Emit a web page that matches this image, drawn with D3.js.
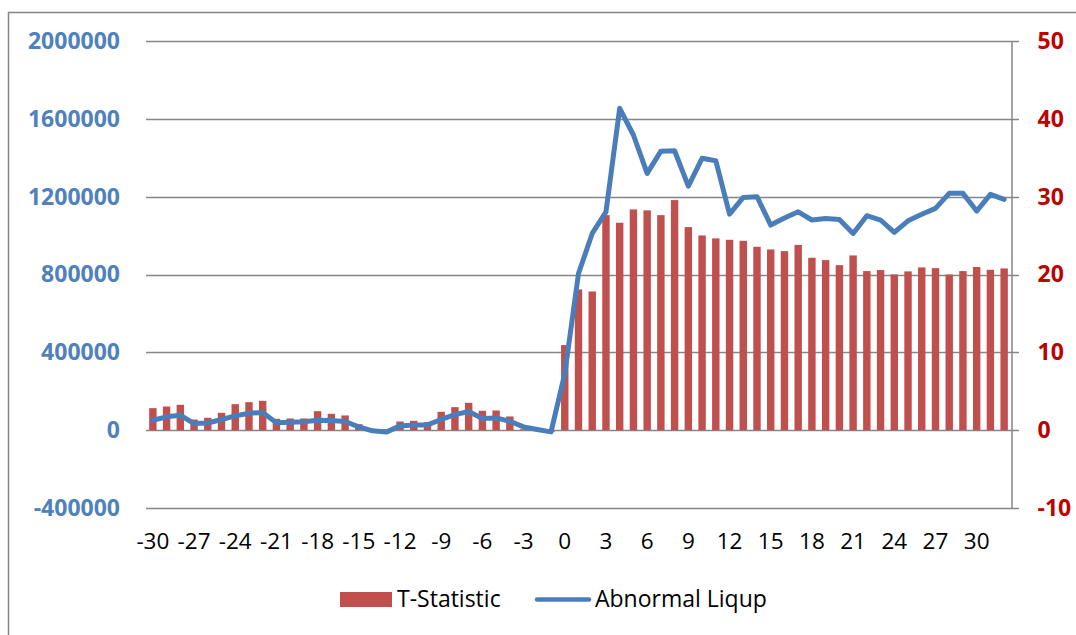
<!DOCTYPE html>
<html>
<head>
    <meta charset="utf-8">
    <title>T-Statistic / Abnormal Liqup</title>
    <script src="https://cdn.jsdelivr.net/npm/d3@7"></script>
    <style>
        body { margin: 0; background: #fff; }
        text { font-family: "Open Sans", "Liberation Sans", sans-serif; }
    </style>
</head>

<body>
<div id="chart"></div>

<script type="text/javascript">
    // event days (categories)
    let days = [-30, -29, -28, -27, -26, -25, -24, -23, -22, -21, -20, -19, -18, -17, -16, -15,
                -14, -13, -12, -11, -10, -9, -8, -7, -6, -5, -4, -3, -2, -1,
                0, 1, 2, 3, 4, 5, 6, 7, 8, 9, 10, 11, 12, 13, 14, 15, 16,
                17, 18, 19, 20, 21, 22, 23, 24, 25, 26, 27, 28, 29, 30, 31, 32];

    // bars, right axis
    let tStat = [2.83, 3.04, 3.26, 1.37, 1.59, 2.23, 3.34, 3.6, 3.77, 1.46, 1.5, 1.5, 2.44, 2.1, 1.89, 0.77,
                 0.15, 0.1, 1.11, 1.2, 1.03, 2.36, 2.96, 3.51, 2.49, 2.53, 1.76, 0.12, 0.05, -0.2,
                 10.93, 18.08, 17.82, 27.63, 26.65, 28.36, 28.24, 27.63, 29.56, 26.09, 25.02, 24.64, 24.46, 24.33, 23.56, 23.22, 23.0,
                 23.8, 22.15, 21.85, 21.2, 22.45, 20.44, 20.57, 20.01, 20.4, 20.91, 20.82, 20.0, 20.44, 20.96, 20.61, 20.78];

    // line, left axis
    let liqup = [51000, 68500, 77000, 34000, 37000, 55000, 73500, 87000, 91000, 37500, 41000, 43000, 51400, 50000, 44600, 17000,
                 -3500, -10000, 22000, 27000, 27000, 55000, 80000, 96000, 60000, 63000, 46000, 17000, 3500, -8700,
                 291000, 805000, 1011000, 1122000, 1654000, 1517000, 1320000, 1434000, 1436000, 1254000, 1397000, 1385000, 1110000, 1196000, 1200000, 1054000, 1090000,
                 1122000, 1080000, 1088000, 1083000, 1011000, 1102000, 1080000, 1016000, 1076000, 1110000, 1140000, 1217000, 1217000, 1126000, 1212000, 1186000];

    let leftTicks = [-400000, 0, 400000, 800000, 1200000, 1600000, 2000000];
    let rightTicks = [-10, 0, 10, 20, 30, 40, 50];
    let dayTicks = [-30, -27, -24, -21, -18, -15, -12, -9, -6, -3, 0, 3, 6, 9, 12, 15, 18, 21, 24, 27, 30];

    // plot area in page pixels
    let plot = {left: 146, right: 1011, top: 41, bottom: 508};
    let grey = "#868686";
    // plain hyphen for negatives, like the original
    let plain = d => String(d);

    let svg = d3.select("#chart")
            .append("svg")
                .attr("width", 1076)
                .attr("height", 635);

    // outer chart border (runs off the right and bottom edges)
    svg.append("rect")
        .attr("x", 8.5).attr("y", 12.5)
        .attr("width", 1200).attr("height", 800)
        .attr("fill", "none")
        .attr("stroke", grey)
        .attr("stroke-width", 1.5);

    let xScale = d3.scaleBand()
                .domain(days)
                .range([plot.left, plot.right]);

    let yLeft = d3.scaleLinear()
                .domain([-400000, 2000000])
                .range([plot.bottom, plot.top]);

    let yRight = d3.scaleLinear()
                .domain([-10, 50])
                .range([plot.bottom, plot.top]);

    // gridlines (extend over the right axis tick)
    svg.append("g")
        .selectAll("line")
        .data(leftTicks)
        .enter()
        .append("line")
            .attr("x1", plot.left)
            .attr("x2", plot.right + 8)
            .attr("y1", d => Math.round(yLeft(d)) + 0.5)
            .attr("y2", d => Math.round(yLeft(d)) + 0.5)
            .attr("stroke", grey)
            .attr("stroke-width", 1.5);

    // bars
    let barW = xScale.bandwidth() * 0.54;
    svg.append("g")
        .selectAll("rect")
        .data(days)
        .enter()
        .append("rect")
            .attr("x", (d, i) => xScale(d) + (xScale.bandwidth() - barW) / 2)
            .attr("y", (d, i) => Math.min(yRight(tStat[i]), yRight(0)))
            .attr("width", barW)
            .attr("height", (d, i) => Math.abs(yRight(tStat[i]) - yRight(0)))
            .attr("fill", "#C0504D");

    // line
    let line = d3.line()
                .x((d, i) => xScale(days[i]) + xScale.bandwidth() / 2)
                .y(d => yLeft(d));
    svg.append("path")
        .datum(liqup)
        .attr("d", line)
        .attr("fill", "none")
        .attr("stroke", "#4A7EBB")
        .attr("stroke-width", 5)
        .attr("stroke-linejoin", "round")
        .attr("stroke-linecap", "round");

    // left axis (labels only)
    let leftAxis = svg.append("g")
        .attr("transform", "translate(" + plot.left + ",0)")
        .call(d3.axisLeft(yLeft).tickValues(leftTicks).tickSize(0).tickPadding(26).tickFormat(plain));
    leftAxis.select(".domain").remove();
    leftAxis.selectAll("text")
        .attr("font-family", "'Open Sans', sans-serif")
        .attr("font-size", "23px")
        .attr("font-weight", "bold")
        .attr("fill", "#4F81BD");

    // right axis
    let rightAxis = svg.append("g")
        .attr("transform", "translate(" + (plot.right + 0.5) + ",0)")
        .call(d3.axisRight(yRight).tickValues(rightTicks).tickSize(0).tickSizeOuter(0).tickPadding(26).tickFormat(plain));
    rightAxis.select(".domain")
        .attr("stroke", grey)
        .attr("stroke-width", 1.5);
    rightAxis.selectAll("text")
        .attr("font-family", "'Open Sans', sans-serif")
        .attr("font-size", "23px")
        .attr("font-weight", "bold")
        .attr("fill", "#C00000");

    // category axis, labels below the plot
    let xAxis = svg.append("g")
        .attr("transform", "translate(0," + plot.bottom + ")")
        .call(d3.axisBottom(xScale).tickValues(dayTicks).tickSize(0).tickPadding(25).tickFormat(plain));
    xAxis.select(".domain").remove();
    xAxis.selectAll("text")
        .attr("font-family", "'Open Sans', sans-serif")
        .attr("font-size", "22.5px")
        .attr("fill", "#000");

    // legend
    let legend = svg.append("g");
    legend.append("rect")
        .attr("x", 340).attr("y", 592)
        .attr("width", 52).attr("height", 15)
        .attr("fill", "#C0504D");
    legend.append("text")
        .attr("x", 397).attr("y", 607)
        .attr("font-size", "23px")
        .attr("fill", "#000")
        .text("T-Statistic");
    legend.append("line")
        .attr("x1", 537).attr("x2", 589)
        .attr("y1", 599.5).attr("y2", 599.5)
        .attr("stroke", "#4A7EBB")
        .attr("stroke-width", 4.5)
        .attr("stroke-linecap", "round");
    legend.append("text")
        .attr("x", 595).attr("y", 607)
        .attr("font-size", "23px")
        .attr("fill", "#000")
        .text("Abnormal Liqup");
</script>
</body>
</html>
